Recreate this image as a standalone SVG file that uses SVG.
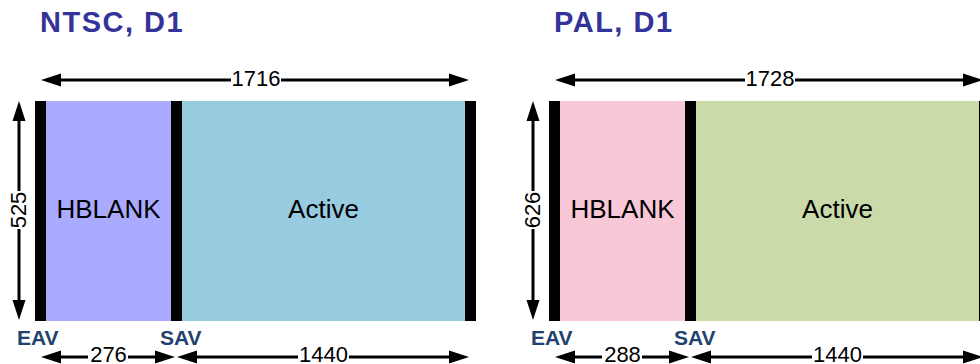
<svg xmlns="http://www.w3.org/2000/svg" width="980" height="364" viewBox="0 0 980 364">
<style>
.title{font-family:"Liberation Sans",Arial,sans-serif;font-weight:bold;font-size:29px;fill:#333399;letter-spacing:1.5px}
.big{font-family:"Liberation Sans",Arial,sans-serif;font-size:26px;fill:#000;text-anchor:middle}
.num{font-family:"Liberation Sans",Arial,sans-serif;font-size:22px;fill:#000;text-anchor:middle}
.mark{font-family:"Liberation Sans",Arial,sans-serif;font-weight:bold;font-size:21px;fill:#21426E}
.bar{fill:#000}
.dim{stroke:#000;stroke-width:3;fill:none;marker-start:url(#ah);marker-end:url(#ah)}
.bg{fill:#fff}
</style>
<defs>
<marker id="ah" markerUnits="userSpaceOnUse" markerWidth="20" markerHeight="14" viewBox="0 0 20 14" refX="4" refY="7" orient="auto-start-reverse">
<path d="M0,0.5 L20,7 L0,13.5 z" fill="#000"/>
</marker>
</defs>

<g id="ntsc">
<text id="ntsc-title" class="title" x="40" y="32">NTSC, D1</text>
<rect id="ntsc-eav" class="bar" x="35" y="101" width="11" height="220"/>
<g id="ntsc-hblank"><rect x="46" y="101" width="125" height="220" fill="#AAAAFF"/><text class="big" x="108.5" y="218">HBLANK</text></g>
<rect id="ntsc-sav" class="bar" x="171" y="101" width="11" height="220"/>
<g id="ntsc-active"><rect x="182" y="101" width="283" height="220" fill="#96CBE0"/><text class="big" x="323.5" y="218">Active</text></g>
<rect id="ntsc-end" class="bar" x="465" y="101" width="11" height="220"/>
<text class="mark" x="17" y="345">EAV</text>
<text class="mark" x="160" y="345">SAV</text>
</g>

<g id="pal">
<text id="pal-title" class="title" x="554" y="32">PAL, D1</text>
<rect id="pal-eav" class="bar" x="549" y="101" width="11" height="220"/>
<g id="pal-hblank"><rect x="560" y="101" width="125" height="220" fill="#F9C8D7"/><text class="big" x="622.5" y="218">HBLANK</text></g>
<rect id="pal-sav" class="bar" x="685" y="101" width="11" height="220"/>
<g id="pal-active"><rect x="696" y="101" width="283" height="220" fill="#CADAA8"/><text class="big" x="837.5" y="218">Active</text></g>
<rect id="pal-end" class="bar" x="979" y="101" width="11" height="220"/>
<text class="mark" x="531" y="345">EAV</text>
<text class="mark" x="674" y="345">SAV</text>
</g>

<g id="connectors">
<line class="dim" x1="57" y1="80" x2="453" y2="80"/>
<rect class="bg" x="231" y="68" width="50" height="22"/>
<text class="num" x="256" y="86">1716</text>

<line class="dim" x1="19" y1="117" x2="19" y2="304"/>
<rect class="bg" x="8" y="191" width="22" height="38"/>
<text class="num" transform="translate(26,210) rotate(-90)" x="0" y="0">525</text>

<line class="dim" x1="57" y1="357" x2="159" y2="357"/>
<rect class="bg" x="88" y="345" width="40" height="19"/>
<text class="num" x="108.5" y="362">276</text>

<line class="dim" x1="193" y1="357" x2="453" y2="357"/>
<rect class="bg" x="298" y="345" width="51" height="19"/>
<text class="num" x="323.5" y="362">1440</text>

<line class="dim" x1="571" y1="80" x2="967" y2="80"/>
<rect class="bg" x="745" y="68" width="50" height="22"/>
<text class="num" x="770" y="86">1728</text>

<line class="dim" x1="533" y1="117" x2="533" y2="304"/>
<rect class="bg" x="522" y="191" width="22" height="38"/>
<text class="num" transform="translate(540,210) rotate(-90)" x="0" y="0">626</text>

<line class="dim" x1="571" y1="357" x2="673" y2="357"/>
<rect class="bg" x="602" y="345" width="40" height="19"/>
<text class="num" x="622.5" y="362">288</text>

<line class="dim" x1="707" y1="357" x2="967" y2="357"/>
<rect class="bg" x="812" y="345" width="51" height="19"/>
<text class="num" x="837.5" y="362">1440</text>
</g>
</svg>
